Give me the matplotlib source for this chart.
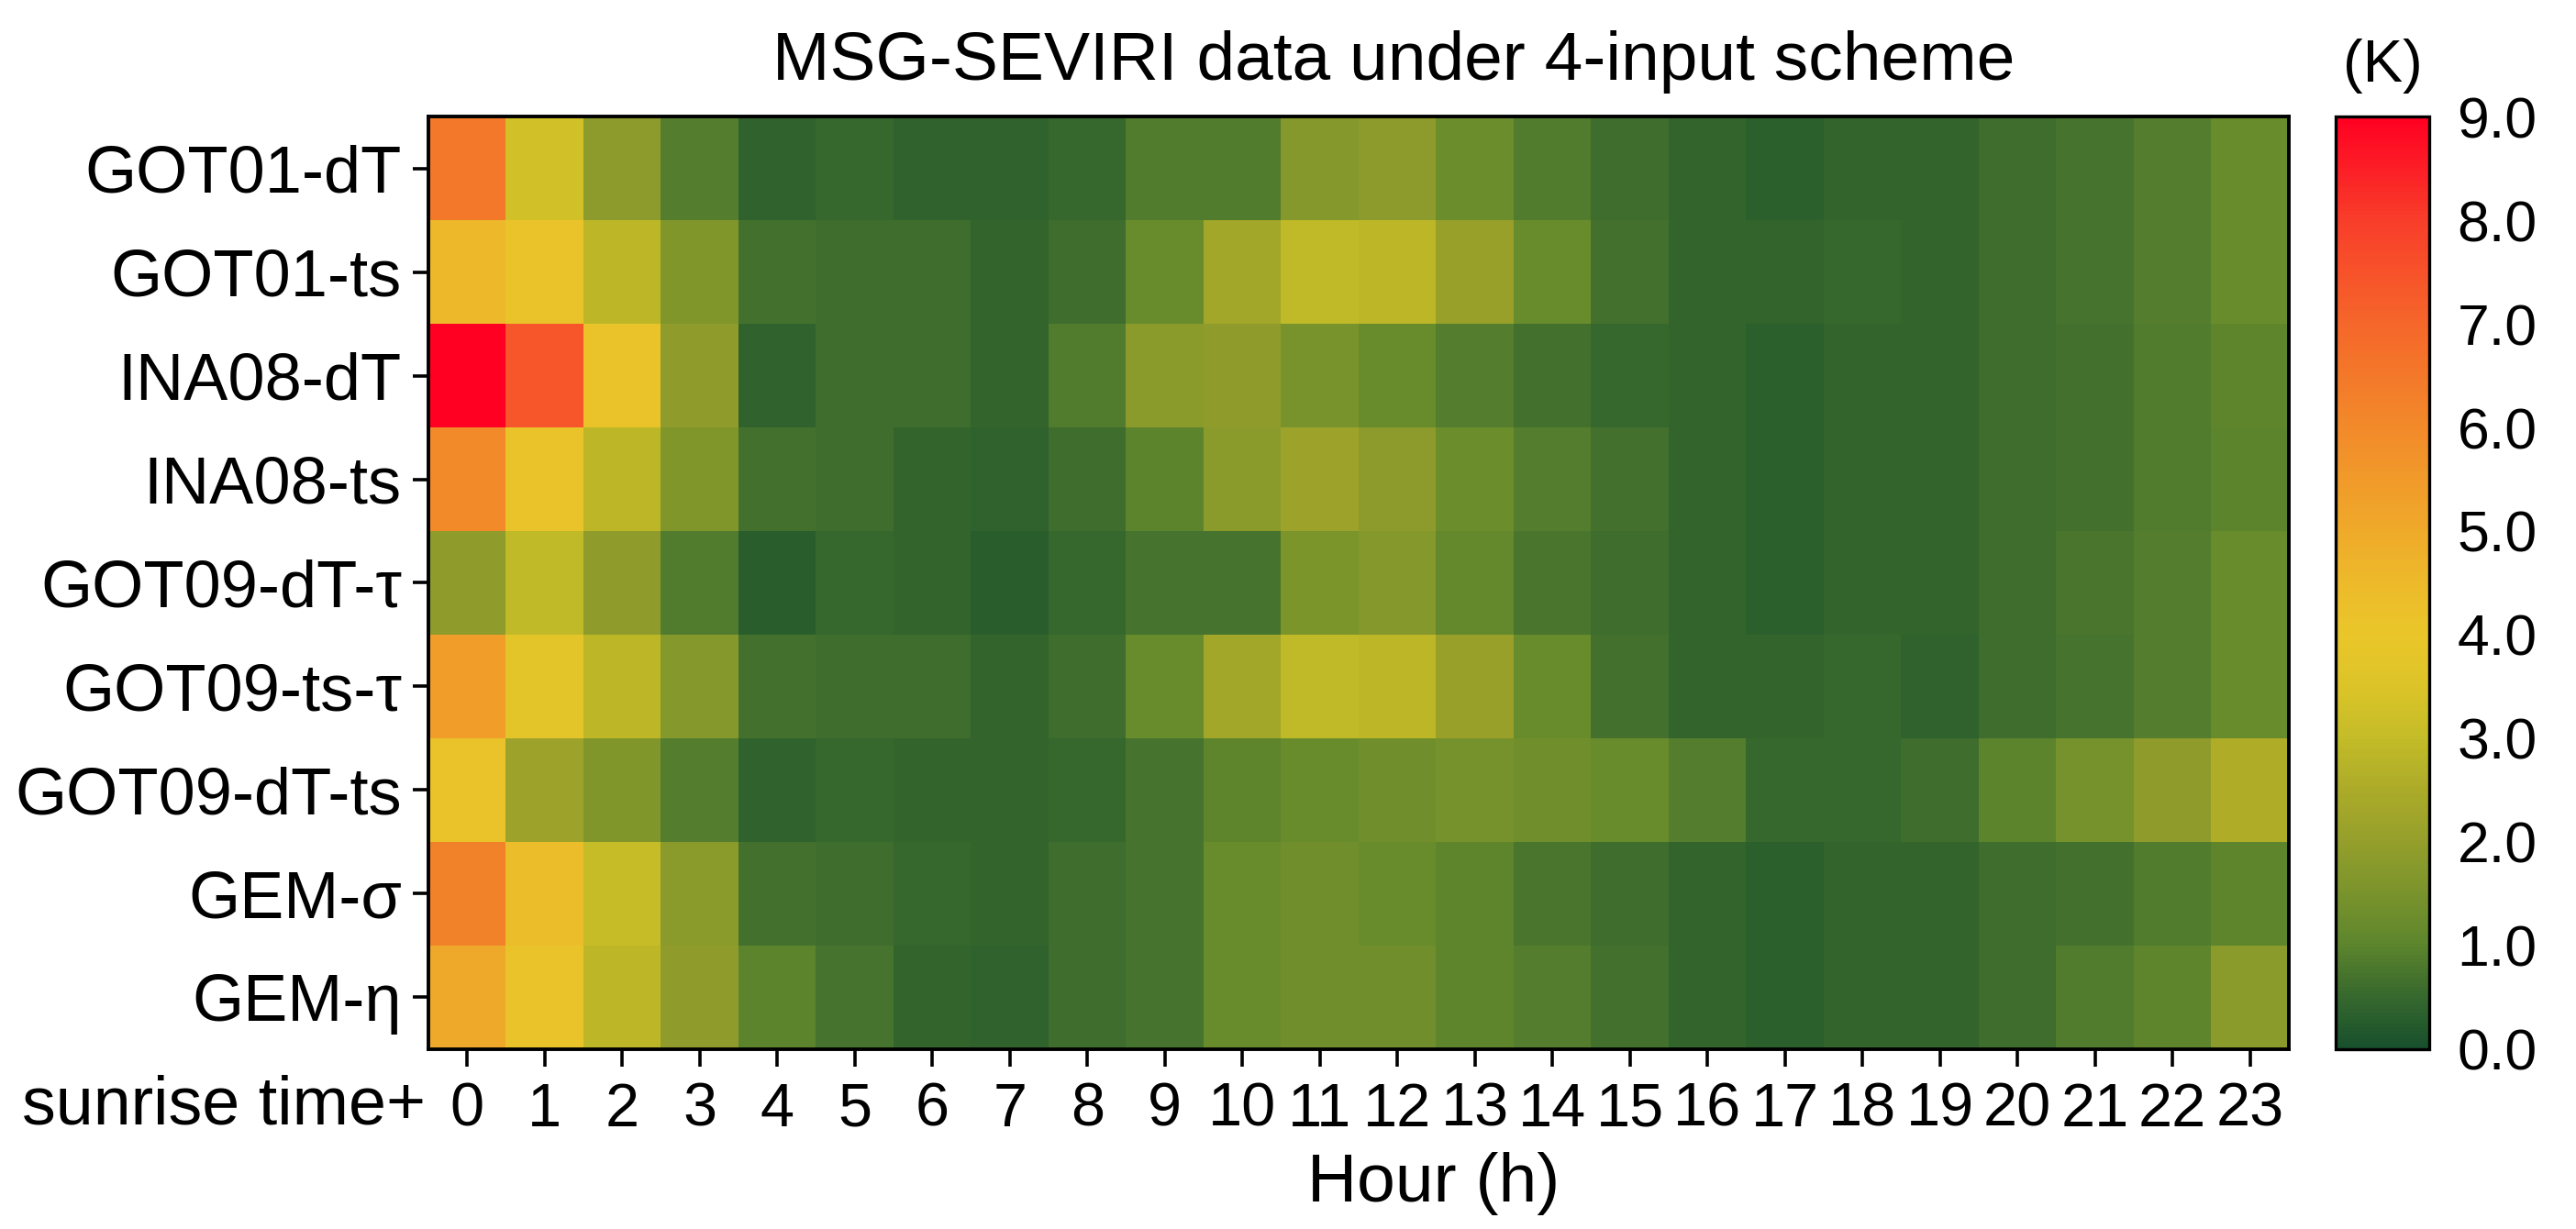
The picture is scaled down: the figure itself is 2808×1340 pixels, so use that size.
import numpy as np
import matplotlib
matplotlib.use('Agg')
import matplotlib.pyplot as plt
from matplotlib.colors import LinearSegmentedColormap

plt.rcParams['font.family'] = ['Liberation Sans', 'DejaVu Sans']

rows = ['GOT01-dT', 'GOT01-ts', 'INA08-dT', 'INA08-ts', 'GOT09-dT-τ',
        'GOT09-ts-τ', 'GOT09-dT-ts', 'GEM-σ', 'GEM-η']
hours = list(range(24))

# error (K) per hour after sunrise
got01_dt = [6.5, 3.3, 1.85, 0.9, 0.4, 0.52, 0.42, 0.42, 0.52, 0.85, 0.85, 1.7,
            1.85, 1.3, 0.85, 0.6, 0.45, 0.33, 0.45, 0.45, 0.6, 0.72, 0.9, 1.2]
got01_ts = [4.5, 4.1, 2.85, 1.65, 0.68, 0.6, 0.6, 0.45, 0.6, 1.2, 2.3, 2.95,
            2.85, 2.1, 1.2, 0.68, 0.45, 0.45, 0.52, 0.45, 0.6, 0.72, 0.9, 1.2]
ina08_dt = [9.0, 7.4, 4.1, 1.9, 0.42, 0.6, 0.6, 0.45, 0.85, 1.8, 1.9, 1.5,
            1.2, 0.9, 0.68, 0.52, 0.45, 0.33, 0.45, 0.45, 0.6, 0.68, 0.85, 1.05]
ina08_ts = [6.0, 4.1, 2.85, 1.65, 0.68, 0.6, 0.45, 0.42, 0.6, 1.0, 1.8, 2.2,
            1.85, 1.3, 0.9, 0.68, 0.45, 0.33, 0.45, 0.45, 0.6, 0.68, 0.85, 1.0]
got09_dt_tau = [1.9, 2.95, 1.9, 0.85, 0.3, 0.52, 0.45, 0.3, 0.52, 0.72, 0.72, 1.55,
                1.7, 1.15, 0.75, 0.6, 0.45, 0.33, 0.45, 0.45, 0.6, 0.75, 0.9, 1.2]
got09_ts_tau = [5.4, 3.8, 2.85, 1.7, 0.68, 0.6, 0.6, 0.45, 0.6, 1.2, 2.3, 2.95,
                2.85, 2.1, 1.2, 0.68, 0.45, 0.45, 0.52, 0.42, 0.6, 0.72, 0.9, 1.2]
got09_dt_ts = [4.1, 2.2, 1.65, 0.9, 0.42, 0.52, 0.45, 0.45, 0.52, 0.72, 1.05, 1.2,
               1.35, 1.45, 1.35, 1.2, 0.9, 0.52, 0.52, 0.6, 1.0, 1.45, 1.9, 2.6]
gem_sigma = [6.2, 4.35, 3.05, 1.8, 0.68, 0.6, 0.52, 0.45, 0.6, 0.72, 1.2, 1.35,
             1.2, 1.05, 0.75, 0.6, 0.45, 0.33, 0.45, 0.45, 0.6, 0.68, 0.85, 1.05]
gem_eta = [5.0, 4.1, 2.85, 1.9, 1.0, 0.72, 0.45, 0.42, 0.6, 0.72, 1.2, 1.35,
           1.35, 1.05, 0.9, 0.68, 0.45, 0.33, 0.45, 0.45, 0.6, 0.85, 1.05, 1.8]

data = np.array([got01_dt, got01_ts, ina08_dt, ina08_ts, got09_dt_tau,
                 got09_ts_tau, got09_dt_ts, gem_sigma, gem_eta])

stops = [(0.0, '#17502c'), (0.5, '#37682d'), (1.0, '#5d852d'), (1.5, '#7a942c'),
         (2.0, '#959f2b'), (2.5, '#acab29'), (3.0, '#c4bc28'), (3.5, '#dcc428'),
         (4.0, '#eac62a'), (4.5, '#edba2a'), (5.0, '#efaa2a'), (6.0, '#f28a2a'),
         (7.0, '#f5672a'), (8.0, '#f83e2a'), (9.0, '#ff0022')]
cmap = LinearSegmentedColormap.from_list('gyr', [(v / 9.0, c) for v, c in stops], N=256)

fig = plt.figure(figsize=(14.04, 6.7), dpi=200)
ax = fig.add_axes([0.1663, 0.1463, 0.7222, 0.7589])
im = ax.imshow(data, cmap=cmap, vmin=0, vmax=9, aspect='auto', interpolation='nearest')

ax.set_xticks(range(len(hours)))
ax.set_xticklabels([str(h) for h in hours], fontsize=24)
ax.set_yticks(range(len(rows)))
ax.set_yticklabels(rows, fontsize=26)
ax.tick_params(axis='x', length=6.8, width=1.3, pad=6)
ax.tick_params(axis='y', length=6.0, width=1.3, pad=4.5)
for s in ax.spines.values():
    s.set_linewidth(1.4)

cax = fig.add_axes([0.9067, 0.1463, 0.0363, 0.7589])
cb = fig.colorbar(im, cax=cax, ticks=np.arange(0, 10))
cb.ax.set_yticklabels(['%.1f' % t for t in range(10)], fontsize=22.5)
cb.ax.tick_params(length=0, pad=11)
cb.outline.set_linewidth(1.2)

fig.text(0.541, 0.935, 'MSG-SEVIRI data under 4-input scheme', fontsize=27,
         ha='center', va='baseline')
fig.text(0.925, 0.946, '(K)', fontsize=23.5, ha='center', va='center')
fig.text(0.1652, 0.0851, 'sunrise time+', fontsize=26.5, ha='right', va='baseline')
fig.text(0.5566, 0.0224, 'Hour (h)', fontsize=27, ha='center', va='baseline')

fig.savefig('out.png', dpi=200)
